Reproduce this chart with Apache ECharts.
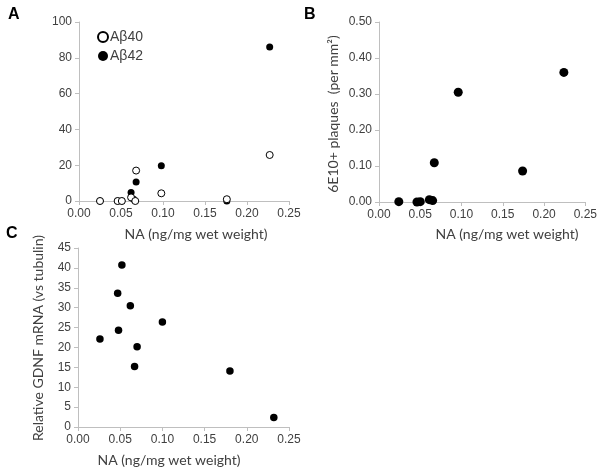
<!DOCTYPE html>
<html><head><meta charset="utf-8">
<script src="https://cdn.jsdelivr.net/npm/echarts@6/dist/echarts.min.js"></script>
<style>html,body{margin:0;padding:0;background:#fff}#c{width:600px;height:472px}</style>
</head><body><div id="c"></div>
<script>
// Panel A data
const naA40 = [0.025, 0.046, 0.051, 0.062, 0.067, 0.068, 0.098, 0.176, 0.227];
const ab40  = [0, 0, 0, 2, 0, 17, 4.3, 1, 25.7];
const naA42 = [0.025, 0.046, 0.051, 0.062, 0.065, 0.068, 0.098, 0.176, 0.227];
const ab42  = [0, 0, 0, 4.7, 1, 10.6, 19.7, 0, 86];
// Panel B data
const naB     = [0.024, 0.046, 0.050, 0.061, 0.065, 0.067, 0.096, 0.174, 0.224];
const plaques = [0.001, 0, 0.001, 0.0065, 0.004, 0.109, 0.305, 0.086, 0.36];
// Panel C data
const naC   = [0.026, 0.047, 0.048, 0.052, 0.062, 0.067, 0.070, 0.100, 0.180, 0.232];
const gdnf  = [22.1, 33.6, 24.3, 40.7, 30.5, 15.2, 20.2, 26.4, 14.1, 2.4];

const zip = (a, b) => a.map((v, i) => [v, b[i]]);
const axisCol = '#bfbfbf', txt = '#404040';
const FONT = 'Liberation Sans, Arial, sans-serif';
const NFONT = 'Lato, Open Sans, sans-serif';

function xAx(gi) {
  return { gridIndex: gi, type: 'value', min: 0, max: 0.25, interval: 0.05,
    axisLine: { lineStyle: { color: axisCol } },
    axisTick: { show: true, length: 4, lineStyle: { color: axisCol } },
    splitLine: { show: false },
    axisLabel: { color: txt, fontFamily: FONT, fontSize: 12, margin: 7, formatter: v => v.toFixed(2) } };
}
function yAx(gi, max, interval, dec) {
  return { gridIndex: gi, type: 'value', min: 0, max: max, interval: interval,
    axisLine: { show: true, lineStyle: { color: axisCol } },
    axisTick: { show: true, length: 4, lineStyle: { color: axisCol } },
    splitLine: { show: false },
    axisLabel: { color: txt, fontFamily: FONT, fontSize: 12, margin: 7, formatter: v => v.toFixed(dec) } };
}

const chart = echarts.init(document.getElementById('c'));
chart.setOption({
  animation: false,
  backgroundColor: '#fff',
  grid: [
    { left: 79, top: 22, width: 210, height: 179 },
    { left: 379, top: 22, width: 210, height: 180 },
    { left: 78, top: 248, width: 211, height: 179 }
  ],
  xAxis: [xAx(0), xAx(1), xAx(2)],
  yAxis: [yAx(0, 100, 20, 0), yAx(1, 0.5, 0.1, 2), yAx(2, 45, 5, 0)],
  legend: {
    left: 92, top: 25, orient: 'vertical', itemWidth: 10, itemHeight: 10, itemGap: 5,
    textStyle: { fontFamily: FONT, fontSize: 14, color: txt, padding: [0, 0, 0, -3] },
    data: [{ name: 'Aβ42', icon: 'circle' }].length ? [
      { name: 'Aβ40', icon: 'circle' }, { name: 'Aβ42', icon: 'circle' }] : []
  },
  series: [
    { name: 'Aβ42', type: 'scatter', xAxisIndex: 0, yAxisIndex: 0, symbolSize: 7,
      itemStyle: { color: '#000', opacity: 1 }, data: zip(naA42, ab42), z: 2 },
    { name: 'Aβ40', type: 'scatter', xAxisIndex: 0, yAxisIndex: 0, symbolSize: 7,
      itemStyle: { color: '#fff', borderColor: '#000', borderWidth: 1, opacity: 1 }, data: zip(naA40, ab40), z: 3 },
    { type: 'scatter', xAxisIndex: 1, yAxisIndex: 1, symbolSize: 9,
      itemStyle: { color: '#000', opacity: 1 }, data: zip(naB, plaques) },
    { type: 'scatter', xAxisIndex: 2, yAxisIndex: 2, symbolSize: 7.5,
      itemStyle: { color: '#000', opacity: 1 }, data: zip(naC, gdnf) }
  ],
  graphic: [
    { type: 'text', left: 8, top: 7, style: { text: 'A', font: 'bold 16px ' + FONT, fill: '#000' } },
    { type: 'text', left: 304, top: 7, style: { text: 'B', font: 'bold 16px ' + FONT, fill: '#000' } },
    { type: 'text', left: 6, top: 226, style: { text: 'C', font: 'bold 16px ' + FONT, fill: '#000' } },
    { type: 'text', x: 196, y: 234, style: { text: 'NA (ng/mg wet weight)', font: '14px ' + NFONT, fill: txt, textAlign: 'center', textVerticalAlign: 'middle' } },
    { type: 'text', x: 507, y: 234, style: { text: 'NA (ng/mg wet weight)', font: '14px ' + NFONT, fill: txt, textAlign: 'center', textVerticalAlign: 'middle' } },
    { type: 'text', x: 169, y: 460, style: { text: 'NA (ng/mg wet weight)', font: '14px ' + NFONT, fill: txt, textAlign: 'center', textVerticalAlign: 'middle' } },
    { type: 'text', x: 333, y: 114, rotation: Math.PI / 2, style: { text: '6E10+ plaques  (per mm²)', font: '14px ' + NFONT, fill: txt, textAlign: 'center', textVerticalAlign: 'middle' } },
    { type: 'text', x: 38, y: 338, rotation: Math.PI / 2, style: { text: 'Relative GDNF mRNA (vs tubulin)', font: '14px ' + NFONT, fill: txt, textAlign: 'center', textVerticalAlign: 'middle' } }
  ]
});
</script></body></html>
